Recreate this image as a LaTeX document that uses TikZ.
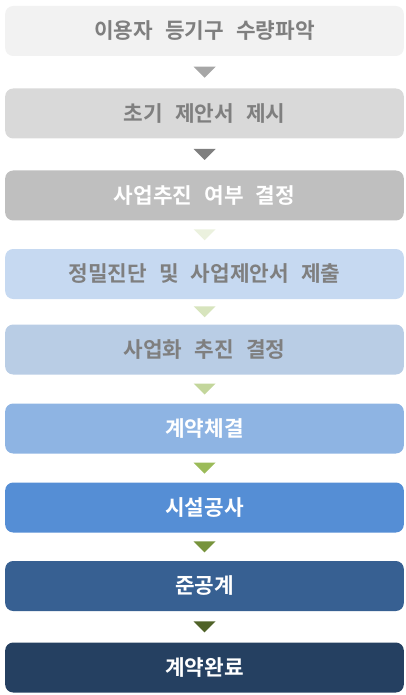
\documentclass[tikz,border=0pt]{standalone}
\usepackage{fontspec}
\usepackage{tikz}
\usetikzlibrary{calc}
\newfontfamily\kr[WordSpace=2.5]{Noto Sans CJK KR Bold}
\definecolor{boxA}{HTML}{F2F2F2}
\definecolor{boxB}{HTML}{D9D9D9}
\definecolor{boxC}{HTML}{BFBFBF}
\definecolor{boxD}{HTML}{C6D9F1}
\definecolor{boxE}{HTML}{B9CDE5}
\definecolor{boxF}{HTML}{8EB4E3}
\definecolor{boxG}{HTML}{558ED5}
\definecolor{boxH}{HTML}{376092}
\definecolor{boxI}{HTML}{254061}
\definecolor{tipA}{HTML}{A6A6A6}
\definecolor{tipB}{HTML}{7F7F7F}
\definecolor{tipC}{HTML}{EBF1DE}
\definecolor{tipD}{HTML}{D7E4BD}
\definecolor{tipE}{HTML}{C3D69B}
\definecolor{tipF}{HTML}{9BBB59}
\definecolor{tipG}{HTML}{77933C}
\definecolor{tipH}{HTML}{4F6228}
\definecolor{txtgray}{HTML}{7F7F7F}
\tikzset{stepbox/.style = {rounded corners=6pt, minimum width=299pt,
                           minimum height=37.5pt, inner sep=0pt,
                           font=\kr\fontsize{16}{18}\selectfont},
         darktext/.style = {text=txtgray},
         lighttext/.style = {text=white}}

\begin{document}
\begin{tikzpicture}[x=0.75pt, y=0.75pt]
      \useasboundingbox (0, 0) rectangle (405, -695);

      \node [stepbox, fill=boxA, darktext] (b1) at (204.5, -31) {이용자 등기구 수량파악};
      \node [stepbox, fill=boxB, darktext] (b2) at (204.5, -113.5) {초기 제안서 제시};
      \node [stepbox, fill=boxC, lighttext] (b3) at (204.5, -195.5) {사업추진 여부 결정};
      \node [stepbox, fill=boxD, darktext] (b4) at (204.5, -274) {정밀진단 및 사업제안서 제출};
      \node [stepbox, fill=boxE, darktext] (b5) at (204.5, -349.5) {사업화 추진 결정};
      \node [stepbox, fill=boxF, lighttext] (b6) at (204.5, -428.5) {계약체결};
      \node [stepbox, fill=boxG, lighttext] (b7) at (204.5, -507.5) {시설공사};
      \node [stepbox, fill=boxH, lighttext] (b8) at (204.5, -586) {준공계};
      \node [stepbox, fill=boxI, lighttext] (b9) at (204.5, -667.5) {계약완료};

      \fill [tipA] ($(b1.south)!0.5!(b2.north)$) +(-11, 5.5) -- +(11, 5.5) -- +(0, -5.5) -- cycle;
      \fill [tipB] ($(b2.south)!0.5!(b3.north)$) +(-11, 5.5) -- +(11, 5.5) -- +(0, -5.5) -- cycle;
      \fill [tipC] ($(b3.south)!0.5!(b4.north)$) +(-11, 5.5) -- +(11, 5.5) -- +(0, -5.5) -- cycle;
      \fill [tipD] ($(b4.south)!0.5!(b5.north)$) +(-11, 5.5) -- +(11, 5.5) -- +(0, -5.5) -- cycle;
      \fill [tipE] ($(b5.south)!0.5!(b6.north)$) +(-11, 5.5) -- +(11, 5.5) -- +(0, -5.5) -- cycle;
      \fill [tipF] ($(b6.south)!0.5!(b7.north)$) +(-11, 5.5) -- +(11, 5.5) -- +(0, -5.5) -- cycle;
      \fill [tipG] ($(b7.south)!0.5!(b8.north)$) +(-11, 5.5) -- +(11, 5.5) -- +(0, -5.5) -- cycle;
      \fill [tipH] ($(b8.south)!0.5!(b9.north)$) +(-11, 5.5) -- +(11, 5.5) -- +(0, -5.5) -- cycle;
    \end{tikzpicture}
\end{document}
